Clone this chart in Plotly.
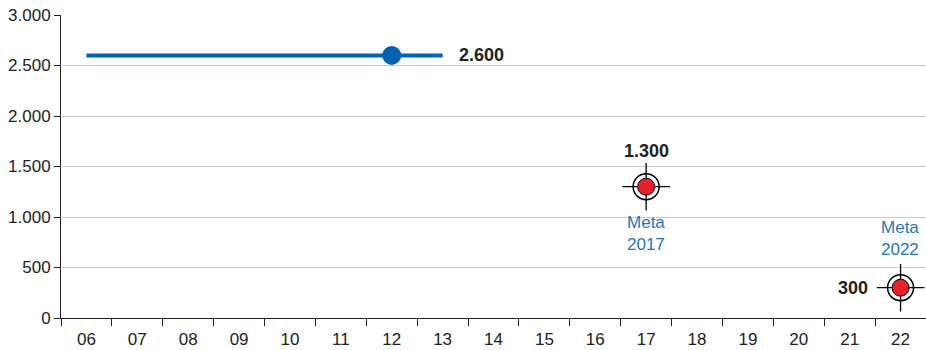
import plotly.graph_objects as go

# categories (years, two digits)
years = ["06", "07", "08", "09", "10", "11", "12", "13", "14", "15",
         "16", "17", "18", "19", "20", "21", "22"]

# current level line
line_years = ["06", "12", "13"]
line_values = [2600, 2600, 2600]
line_point_year = "12"
line_point_value = 2600
line_label = "2.600"

# targets
target_years = ["17", "22"]
target_values = [1300, 300]
target_labels = ["1.300", "300"]
target_names = ["Meta<br>2017", "Meta<br>2022"]

y_ticks = [0, 500, 1000, 1500, 2000, 2500, 3000]
y_ticktext = ["0", "500", "1.000", "1.500", "2.000", "2.500", "3.000"]

BLUE = "#0063b1"
TEXT_BLUE = "#1f77c0"
RED = "#e8202a"
FONT = "Liberation Sans, Arial, sans-serif"
BOLD_FONT = "Liberation Sans Narrow, Arial Narrow, Liberation Sans, sans-serif"


def pos(y):
    # annotation position on the category axis (index of the category)
    return years.index(y)


fig = go.Figure()

fig.add_trace(go.Scatter(
    x=line_years, y=line_values, mode="lines",
    line=dict(color=BLUE, width=4), hoverinfo="skip", showlegend=False,
))
fig.add_trace(go.Scatter(
    x=[line_point_year], y=[line_point_value], mode="markers",
    marker=dict(color=BLUE, size=19), showlegend=False,
))

# target markers: ring + crosshair + red dot
fig.add_trace(go.Scatter(
    x=target_years, y=target_values, mode="markers",
    marker=dict(symbol="circle", size=26, color="white", line=dict(color="black", width=1.5)),
    hoverinfo="skip", showlegend=False,
))
fig.add_trace(go.Scatter(
    x=target_years, y=target_values, mode="markers",
    marker=dict(symbol="cross-thin-open", size=34, color="black",
                line=dict(color="black", width=1.3)),
    hoverinfo="skip", showlegend=False,
))
fig.add_trace(go.Scatter(
    x=target_years, y=target_values, mode="markers",
    marker=dict(symbol="circle", size=17, color=RED, line=dict(color="black", width=1)),
    showlegend=False,
))

bold = dict(family=BOLD_FONT, size=18, color="#222222")
fig.add_annotation(x=pos(line_years[-1]), y=line_values[-1], text="<b>" + line_label + "</b>",
                   showarrow=False, xanchor="left", xshift=14, font=bold)
fig.add_annotation(x=pos(target_years[0]), y=target_values[0], text="<b>" + target_labels[0] + "</b>",
                   showarrow=False, yanchor="bottom", yshift=24, font=bold)
fig.add_annotation(x=pos(target_years[1]), y=target_values[1], text="<b>" + target_labels[1] + "</b>",
                   showarrow=False, xanchor="right", xshift=-31, font=bold)
fig.add_annotation(x=pos(target_years[0]), y=target_values[0], text=target_names[0],
                   showarrow=False, yanchor="top", yshift=-24,
                   font=dict(family=BOLD_FONT, size=17, color=TEXT_BLUE))
fig.add_annotation(x=pos(target_years[1]), y=target_values[1], text=target_names[1],
                   showarrow=False, yanchor="bottom", yshift=27, xanchor="right", xshift=20,
                   align="right", font=dict(family=BOLD_FONT, size=17, color=TEXT_BLUE))

fig.update_layout(
    width=926, height=350,
    margin=dict(l=61, r=0, t=15, b=32, autoexpand=False),
    plot_bgcolor="white", paper_bgcolor="white",
    font=dict(family=FONT, size=17, color="#222222"),
    showlegend=False,
    xaxis=dict(
        type="category", categoryorder="array", categoryarray=years,
        range=[-0.5, len(years) - 0.5], automargin=False,
        tickson="boundaries", ticks="outside", ticklen=7, tickcolor="#222222",
        showgrid=False, showline=True, linecolor="#222222", linewidth=1,
        tickfont=dict(size=17), ticklabelstandoff=6, zeroline=False,
    ),
    yaxis=dict(
        range=[0, 3000], tickvals=y_ticks, ticktext=y_ticktext, automargin=False,
        ticks="outside", ticklen=6, tickcolor="#222222",
        showgrid=True, gridcolor="#c8c8c8", gridwidth=1,
        showline=True, linecolor="#222222", linewidth=1,
        zeroline=False, tickfont=dict(size=17),
    ),
)

fig.write_html("out.html", config={"displayModeBar": False},
               post_script="document.body.style.margin='0';document.body.style.overflow='hidden';")
